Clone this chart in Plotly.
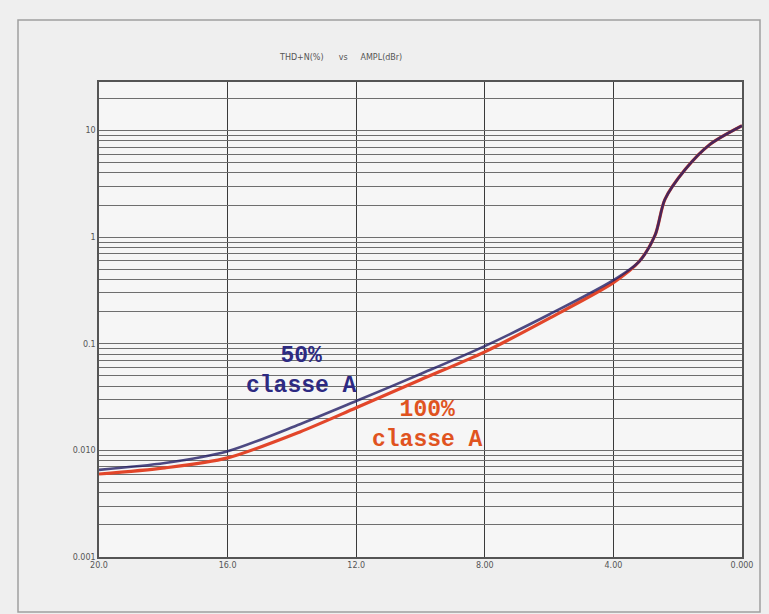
import numpy as np
import plotly.graph_objects as go

# Output level (dBr), axis runs from 20 down to 0
level_100 = [20.0, 17.95, 16.0, 13.75, 12.0, 10.0, 8.0, 5.97, 4.0, 3.2, 2.7, 2.4, 1.77, 1.0, 0.0]
thd_100 = [0.0060, 0.00685, 0.0085, 0.0149, 0.0251, 0.0459, 0.084, 0.175, 0.374, 0.59, 1.05, 2.25, 4.3, 7.4, 11.1]

level_50 = [20.0, 17.95, 16.0, 13.75, 12.0, 10.0, 8.0, 5.97, 4.0, 3.2, 2.7, 2.4, 1.77, 1.0, 0.0]
thd_50 = [0.00656, 0.0076, 0.0098, 0.0176, 0.0290, 0.0520, 0.095, 0.190, 0.395, 0.59, 1.05, 2.25, 4.3, 7.4, 11.1]

x_ticks = [20, 16, 12, 8, 4, 0]
x_labels = ["20.0", "16.0", "12.0", "8.00", "4.00", "0.000"]

y_major = [0.001, 0.01, 0.1, 1, 10, 30]
y_major_labels = ["0.001", "0.010", "0.1", "1", "10", "30"]

# every 1..9 step of each decade carries a grid line
y_grid = []
for dec in [0.001, 0.01, 0.1, 1, 10]:
    for m in range(1, 10):
        v = round(m * dec, 6)
        if v <= 20:
            y_grid.append(v)
y_grid = sorted(set(y_grid + [30]))
y_text = [y_major_labels[y_major.index(v)] if v in y_major else "" for v in y_grid]

fig = go.Figure()

fig.add_trace(go.Scatter(
    x=level_100, y=thd_100, mode="lines", line=dict(color="#e2462a", width=3.2, shape="spline", smoothing=0.8),
    name="100% classe A", showlegend=False, hoverinfo="skip"))
fig.add_trace(go.Scatter(
    x=level_50, y=thd_50, mode="lines", line=dict(color="#231f66", width=2.6, shape="spline", smoothing=0.8),
    opacity=0.8, name="50% classe A", showlegend=False, hoverinfo="skip"))

fig.add_annotation(x=13.69, y=-1.254, text="<b>50%<br>classe A</b>", showarrow=False,
                   font=dict(family="Liberation Mono", size=23, color="#2d2a82"), align="center")
fig.add_annotation(x=9.77, y=-1.761, text="<b>100%<br>classe A</b>", showarrow=False,
                   font=dict(family="Liberation Mono", size=23, color="#e0531f"), align="center")

fig.add_annotation(xref="paper", yref="paper", x=0.375, y=1.0 + 25 / 475, text="THD+N(%)&nbsp;&nbsp;&nbsp;&nbsp;&nbsp;&nbsp;vs&nbsp;&nbsp;&nbsp;&nbsp;&nbsp;AMPL(dBr)",
                   showarrow=False, font=dict(family="DejaVu Sans", size=8, color="#555555"), yanchor="middle")

# outer frame of the sheet
fig.add_shape(type="rect", xref="paper", yref="paper", x0=-81 / 643, x1=1 + 18 / 643, y0=-55 / 475, y1=1 + 62 / 475,
              line=dict(color="#a0a0a0", width=1.5), fillcolor="rgba(0,0,0,0)", layer="below")

fig.update_layout(
    width=769, height=614,
    margin=dict(l=99, r=27, t=82, b=57),
    paper_bgcolor="#efefef",
    plot_bgcolor="#f6f6f6",
    font=dict(family="DejaVu Sans", size=9, color="#555555"),
)
fig.update_xaxes(
    range=[20, 0], tickvals=x_ticks, ticktext=x_labels, showgrid=True, gridcolor="#3a3a3a", gridwidth=1.4,
    zeroline=False, showline=True, mirror=True, linecolor="#555555", linewidth=1.5, ticks="", tickfont=dict(size=8),
)
fig.update_yaxes(
    type="log", range=[np.log10(0.001), np.log10(28.5)], tickvals=y_grid, ticktext=y_text,
    showgrid=True, gridcolor="#6e6e6e", gridwidth=1.4, zeroline=False, showline=True, mirror=True,
    linecolor="#555555", linewidth=1.5, ticks="", tickfont=dict(size=8),
)

fig.write_html("out.html")
